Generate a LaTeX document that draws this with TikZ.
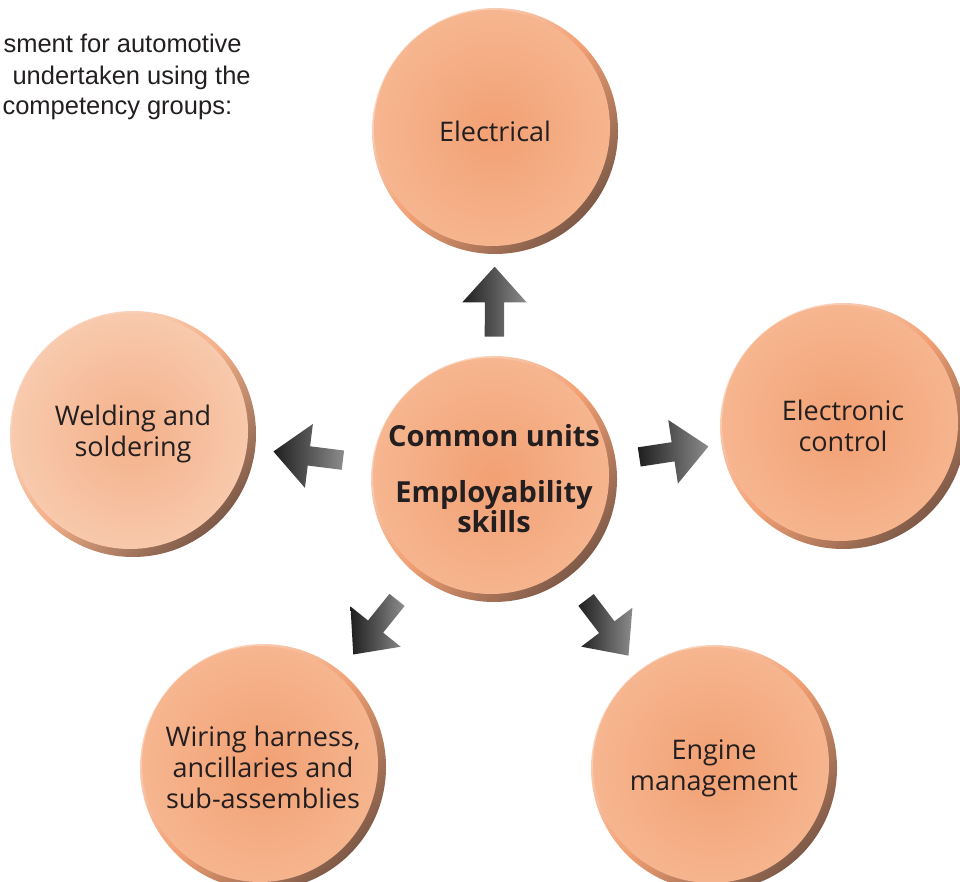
\documentclass[tikz,border=0pt]{standalone}
\usepackage{fontspec}
\usetikzlibrary{shapes.arrows}
\newfontfamily\ballfont{Open Sans}
\newfontfamily\notefont{Liberation Sans}
\definecolor{ballmid}{HTML}{F2A073}
\definecolor{balledge}{HTML}{F6B690}
\definecolor{palemid}{HTML}{F4B089}
\definecolor{paleedge}{HTML}{F8CAAE}
\definecolor{ballhi}{HTML}{FBDCCB}
\definecolor{ballrim}{HTML}{7E5A48}
\definecolor{inktext}{HTML}{231F20}

\tikzset{
	ball/.style={circle, minimum size=246pt, inner sep=0pt, top color=ballhi, bottom color=ballrim, middle color=#1mid, shading angle=45,
		text=inktext, align=center, font=\ballfont\fontsize{27}{31}\selectfont,
		path picture={\shade[inner color=#1mid, outer color=#1edge] ([shift={(-3pt,3pt)}]path picture bounding box.center) circle (118pt);}},
	ball/.default=ball,
	blk/.style={single arrow, minimum height=70pt, inner xsep=0pt, inner ysep=9.5pt, single arrow head extend=22.5pt, single arrow tip angle=84,
		left color=black!88, right color=black!45, sloped, allow upside down},
	note/.style={anchor=base west, text=inktext, font=\notefont\fontsize{25.5}{31}\selectfont}
}

\begin{document}
\begin{tikzpicture}[x=1pt,y=1pt]
	\useasboundingbox (0,0) rectangle (960,882);
	\node[note] (n1) at (0,829) {sment for automotive};
	\node[note] (n2) at (9,797) {undertaken using the};
	\node[note] (n3) at (-1,767) {competency groups:};

	\node[ball, font=\ballfont\bfseries\fontsize{29}{30}\selectfont] (ctr) at (494,403) {Common units\\[26pt]Employability\\skills};
	\node[ball] (elec) at (495,751) {Electrical};
	\node[ball=pale] (weld) at (133,448) {Welding and\\soldering};
	\node[ball] (elon) at (843,456) {Electronic\\control};
	\node[ball] (wire) at (263,115) {Wiring harness,\\ancillaries and\\sub-assemblies};
	\node[ball] (engn) at (714,114) {Engine\\management};

	\path (ctr) -- (elec) node[blk, pos=0.48] (toelec) {};
	\path (ctr) -- (weld) node[blk, midway] (toweld) {};
	\path (ctr) -- (elon) node[blk, midway] (toelon) {};
	\path (ctr) -- (wire) node[blk, midway] (towire) {};
	\path (ctr) -- (engn) node[blk, midway] (toengn) {};
\end{tikzpicture}
\end{document}
